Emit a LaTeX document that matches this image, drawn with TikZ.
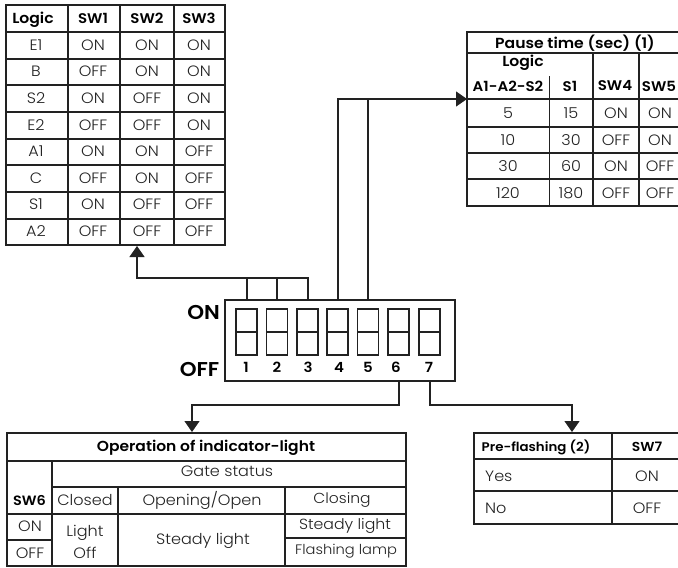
\documentclass[tikz,border=0pt]{standalone}
\usepackage{fontspec}
\setmainfont[FakeStretch=1.07,UprightFont={* Light},BoldFont={* SemiBold}]{Poppins}
\usetikzlibrary{arrows.meta}
\definecolor{ink}{HTML}{222222}
\tikzset{
  x=1pt,y=-1pt,
  rule/.style={draw=ink,line width=1.1pt},
  thin rule/.style={draw=ink,line width=0.9pt},
  framebox/.style={rule,rectangle,inner sep=0pt,outer sep=0pt},
  val/.style={inner sep=0pt,text=ink,font=\fontsize{15}{16}\selectfont,anchor=center},
  head/.style={inner sep=0pt,text=black,font=\fontsize{14}{16}\selectfont\bfseries,anchor=center},
  big/.style={inner sep=0pt,text=black,font=\fontsize{20}{20}\selectfont\bfseries,anchor=east},
  num/.style={inner sep=0pt,text=black,font=\fontsize{14}{14}\selectfont\bfseries,anchor=center},
  link/.style={draw=ink,line width=1.1pt},
  tip/.style={-{Triangle[length=11pt,width=15pt]}},
}
\begin{document}
\begin{tikzpicture}
\useasboundingbox (0,0) rectangle (678,568);
\fill[white] (0,0) rectangle (678,568);
% ---------- Logic table
\node[framebox,minimum width=219pt,minimum height=240pt,anchor=north west] (logic) at (6,5) {};
\foreach \x in {68,120,174} \draw[rule] (\x,5) -- (\x,245);
\foreach \y in {32,59,85,112,139,165,192,219} \draw[rule] (6,\y) -- (225,\y);
\node[head] (lh0) at (33,19.5) {\fontsize{14.6}{16}\selectfont Logic};
\node[head] (lh1) at (93,18.5) {SW1};
\node[head] (lh2) at (147,18.5) {SW2};
\node[head] (lh3) at (199,18.5) {SW3};
\foreach \a/\b/\c/\d [count=\i] in {E1/ON/ON/ON,B/OFF/ON/ON,S2/ON/OFF/ON,E2/OFF/OFF/ON,A1/ON/ON/OFF,C/OFF/ON/OFF,S1/ON/OFF/OFF,A2/OFF/OFF/OFF}{
  \pgfmathsetmacro\yy{45+26.6*(\i-1)}
  \node[val] (la\i) at (36,\yy) {\a};
  \node[val] (lb\i) at (93,\yy) {\b};
  \node[val] (lc\i) at (147,\yy) {\c};
  \node[val] (ld\i) at (199,\yy) {\d};
}
% ---------- Pause table
\node[framebox,minimum width=212pt,minimum height=174pt,anchor=north west] (pause) at (467,32) {};
\draw[rule] (467,53) -- (680,53);
\draw[rule] (467,99) -- (680,99);
\foreach \y in {127,153,179} \draw[rule] (467,\y) -- (680,\y);
\draw[thin rule] (549,76) -- (549,206);
\foreach \x in {593,639} \draw[rule] (\x,53) -- (\x,206);
\node[head] (ph) at (575,43) {\fontsize{14.6}{16}\selectfont Pause time (sec) (1)};
\node[head] (pl) at (523,63) {\fontsize{14.6}{16}\selectfont Logic};
\node[head] (p1) at (508,86) {A1-A2-S2};
\node[head] (p2) at (570,86) {S1};
\node[head] (p3) at (615,86) {SW4};
\node[head] (p4) at (659,86) {SW5};
\foreach \a/\b/\c/\d/\yy [count=\i] in {5/15/ON/ON/113,10/30/OFF/ON/140,30/60/ON/OFF/166,120/180/OFF/OFF/193}{
  \node[val] (pa\i) at (508,\yy) {\a};
  \node[val] (pb\i) at (571,\yy) {\b};
  \node[val] (pc\i) at (616,\yy) {\c};
  \node[val] (pd\i) at (660,\yy) {\d};
}
% ---------- DIP switch
\node[framebox,minimum width=230pt,minimum height=81pt,anchor=north west] (dip) at (225,300) {};
\foreach \x/\n/\lx [count=\i] in {236/1/246,266.5/2/277,297/3/308,327/4/339,357.5/5/368,388/6/396,419/7/429}{
  \node[framebox,minimum width=21pt,minimum height=46pt,anchor=north west] (sw\i) at (\x,309) {};
  \draw[rule] (sw\i.west) -- (sw\i.east);
  \node[num] (n\i) at (\lx,367.5) {\n};
}
\node[big] (on) at (220,312) {ON};
\node[big] (off) at (219.5,369) {OFF};
% ports on the DIP housing
\coordinate (d1) at (247,300);
\coordinate (d2) at (277,300);
\coordinate (d3) at (308,300);
\coordinate (d4) at (338,300);
\coordinate (d5) at (368,300);
\coordinate (d6) at (399,381);
\coordinate (d7) at (430,381);
\coordinate (busa) at (137,278);
\coordinate (logicin) at (137,246);
\coordinate (pausein) at (467,99);
\coordinate (busb) at (338,99);
% ---------- Connectors
\draw[link,tip] (d3) |- (busa) -- (logicin);
\draw[link] (d1) -- (d1 |- busa);
\draw[link] (d2) -- (d2 |- busa);
\draw[link,tip] (d4) -- (busb) -- (pausein);
\draw[link] (d5) -- (d5 |- busb);
% ---------- Operation table
\node[framebox,minimum width=399pt,minimum height=133pt,anchor=north west] (oper) at (7,433) {};
\draw[rule] (7,461) -- (406,461);
\draw[rule] (52,461) -- (52,566);
\draw[rule] (52,487) -- (406,487);
\draw[rule] (7,514) -- (406,514);
\foreach \x in {118,285} \draw[rule] (\x,487) -- (\x,566);
\draw[rule] (7,540) -- (52,540);
\draw[rule] (285,538) -- (406,538);
\node[head] (oh) at (206,448) {\fontsize{14.5}{16}\selectfont Operation of indicator-light};
\node[val] (og) at (227,471) {Gate status};
\node[head] (os) at (29.5,501) {\fontsize{13.5}{16}\selectfont SW6};
\node[val] (oc) at (85,500) {Closed};
\node[val] (oo) at (202,500) {Opening/Open};
\node[val] (ocl) at (342,500) {\fontsize{14.5}{16}\selectfont Closing};
\node[val] (oon) at (30,526) {ON};
\node[val] (oof) at (30,553) {OFF};
\node[val] (ol1) at (85,533) {Light};
\node[val] (ol2) at (85,553) {Off};
\node[val] (osl) at (203,541) {Steady light};
\node[val] (osa) at (345,526) {\fontsize{14.7}{16}\selectfont Steady light};
\node[val] (ofl) at (346,551) {\fontsize{13.7}{16}\selectfont Flashing lamp};
% ---------- Pre-flashing table
\node[framebox,minimum width=205pt,minimum height=91pt,anchor=north west] (pre) at (474,433) {};
\draw[rule] (474,459) -- (680,459);
\draw[rule] (474,491) -- (680,491);
\draw[rule] (612,433) -- (612,524);
\node[head] (ph1) at (536,447) {\fontsize{12.5}{16}\selectfont Pre-flashing (2)};
\node[head] (ph2) at (647,447) {\fontsize{13}{16}\selectfont SW7};
\node[val,anchor=west] (py) at (485,476) {Yes};
\node[val] (py2) at (647,476) {ON};
\node[val,anchor=west] (pn) at (485,508) {No};
\node[val] (pn2) at (647,508) {OFF};
% lower connectors
\coordinate (opin) at (192,432);
\coordinate (prein) at (572,432);
\coordinate (k6) at (399,405);
\coordinate (k7) at (430,405);
\draw[link,tip] (d6) -- (k6) -| (opin);
\draw[link,tip] (d7) -- (k7) -| (prein);
\end{tikzpicture}
\end{document}
